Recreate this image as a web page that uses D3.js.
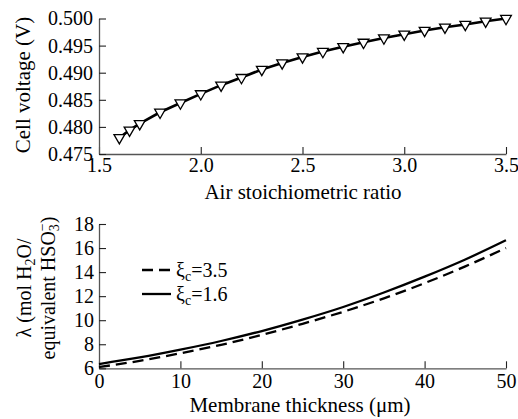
<!DOCTYPE html>
<html><head><meta charset="utf-8">
<script src="https://cdn.jsdelivr.net/npm/d3@7"></script>
<style>
html,body{margin:0;padding:0;background:#fff;}
svg text{font-family:"Liberation Serif","Times New Roman",serif;fill:#000;}
</style></head>
<body>
<script>
// ---- Data ----
const airRatio = [1.6,1.65,1.7,1.8,1.9,2.0,2.1,2.2,2.3,2.4,2.5,2.6,2.7,2.8,2.9,3.0,3.1,3.2,3.3,3.4,3.5];
const cellVoltage = [0.4780,0.4794,0.4806,0.4827,0.4844,0.4861,0.4877,0.4891,0.4906,0.4918,0.4929,0.4939,0.4948,0.4956,0.4964,0.4971,0.4978,0.4984,0.4989,0.4995,0.5000];
const topXTicks = [1.5,2.0,2.5,3.0,3.5];
const topYTicks = [0.475,0.480,0.485,0.490,0.495,0.500];

const thickness = [0,5,10,15,20,25,30,35,40,45,50];
const lambdaXi35 = [6.10,6.62,7.25,7.95,8.78,9.70,10.70,11.82,13.08,14.48,16.00];
const lambdaXi16 = [6.35,6.90,7.55,8.27,9.10,10.05,11.10,12.30,13.62,15.05,16.65];
const bottomXTicks = [0,10,20,30,40,50];
const bottomYTicks = [6,8,10,12,14,16,18];

const W = 518, H = 419;
const SERIF = "'Liberation Serif', 'Times New Roman', serif";
const svg = d3.select("body").append("svg").attr("width", W).attr("height", H)
  .attr("font-family", SERIF);
const FS = 20;

function styleAxis(g){
  g.attr("font-family", SERIF).attr("font-size", FS);
  g.select(".domain").attr("stroke","#555").attr("stroke-width",1.3);
  g.selectAll(".tick line").attr("stroke","#222").attr("stroke-width",1.1);
  g.selectAll(".tick text").attr("font-family", SERIF).attr("font-size", FS).attr("fill","#000");
}

// ---- Top chart ----
const x1 = d3.scaleLinear().domain([1.5,3.5]).range([99,506]);
const y1 = d3.scaleLinear().domain([0.475,0.500]).range([154,18.5]);

const gx1 = svg.append("g").attr("transform","translate(0,154)")
  .call(d3.axisBottom(x1).tickValues(topXTicks).tickFormat(d3.format(".1f")).tickSizeInner(-7).tickSizeOuter(0).tickPadding(4));
styleAxis(gx1);
const gy1 = svg.append("g").attr("transform","translate(99,0)")
  .call(d3.axisLeft(y1).tickValues(topYTicks).tickFormat(d3.format(".3f")).tickSizeInner(-7).tickSizeOuter(0).tickPadding(6));
styleAxis(gy1);

const line1 = d3.line().x((d,i)=>x1(airRatio[i])).y(d=>y1(d));
svg.append("path").datum(cellVoltage).attr("d",line1)
  .attr("fill","none").attr("stroke","#000").attr("stroke-width",2.6);

const tri = d3.symbol().type(d3.symbolTriangle).size(50);
svg.append("g").selectAll("path").data(cellVoltage).join("path")
  .attr("d",tri)
  .attr("transform",(d,i)=>`translate(${x1(airRatio[i])},${y1(d)}) rotate(180)`)
  .attr("fill","#fff").attr("stroke","#000").attr("stroke-width",1.3);

svg.append("text").attr("x",303).attr("y",199).attr("text-anchor","middle")
  .attr("font-size",21).text("Air stoichiometric ratio");
svg.append("text").attr("transform","translate(30,85) rotate(-90)").attr("text-anchor","middle")
  .attr("font-size",21).text("Cell voltage (V)");

// ---- Bottom chart ----
const x2 = d3.scaleLinear().domain([0,50]).range([99,506]);
const y2 = d3.scaleLinear().domain([6,18]).range([368.3,224]);

const gx2 = svg.append("g").attr("transform","translate(0,368.3)")
  .call(d3.axisBottom(x2).tickValues(bottomXTicks).tickFormat(d3.format("d")).tickSizeInner(-7).tickSizeOuter(0).tickPadding(6));
styleAxis(gx2);
const gy2 = svg.append("g").attr("transform","translate(99,0)")
  .call(d3.axisLeft(y2).tickValues(bottomYTicks).tickFormat(d3.format("d")).tickSizeInner(-7).tickSizeOuter(0).tickPadding(5));
styleAxis(gy2);

const line2 = d3.line().x((d,i)=>x2(thickness[i])).y(d=>y2(d)).curve(d3.curveMonotoneX);
svg.append("path").datum(lambdaXi35).attr("d",line2)
  .attr("fill","none").attr("stroke","#000").attr("stroke-width",2.3).attr("stroke-dasharray","11,6");
svg.append("path").datum(lambdaXi16).attr("d",line2)
  .attr("fill","none").attr("stroke","#000").attr("stroke-width",2.3);

// legend
const legend = [{label:"3.5", dash:"11,6", y:270},{label:"1.6", dash:null, y:294}];
legend.forEach(l=>{
  svg.append("line").attr("x1",142).attr("x2",171).attr("y1",l.y).attr("y2",l.y)
    .attr("stroke","#000").attr("stroke-width",2.3).attr("stroke-dasharray",l.dash);
  const t = svg.append("text").attr("x",176).attr("y",l.y+7).attr("font-size",FS);
  t.append("tspan").text("ξ");
  t.append("tspan").attr("baseline-shift","-30%").attr("font-size",14).text("c");
  t.append("tspan").text("=" + l.label);
});

svg.append("text").attr("x",300).attr("y",412).attr("text-anchor","middle")
  .attr("font-size",21).text("Membrane thickness (μm)");

const yl1 = svg.append("text").attr("transform","translate(31,288) rotate(-90)").attr("text-anchor","middle").attr("font-size",FS);
yl1.append("tspan").text("λ (mol H");
yl1.append("tspan").attr("baseline-shift","-30%").attr("font-size",14).text("2");
yl1.append("tspan").text("O/");

const yl2 = svg.append("text").attr("transform","translate(55,288) rotate(-90)").attr("text-anchor","middle").attr("font-size",FS);
yl2.append("tspan").text("equivalent HSO");
yl2.append("tspan").attr("baseline-shift","-30%").attr("font-size",14).text("3");
yl2.append("tspan").attr("dx",-7).attr("baseline-shift","55%").attr("font-size",14).text("−");
yl2.append("tspan").text(")");
</script>
</body></html>
